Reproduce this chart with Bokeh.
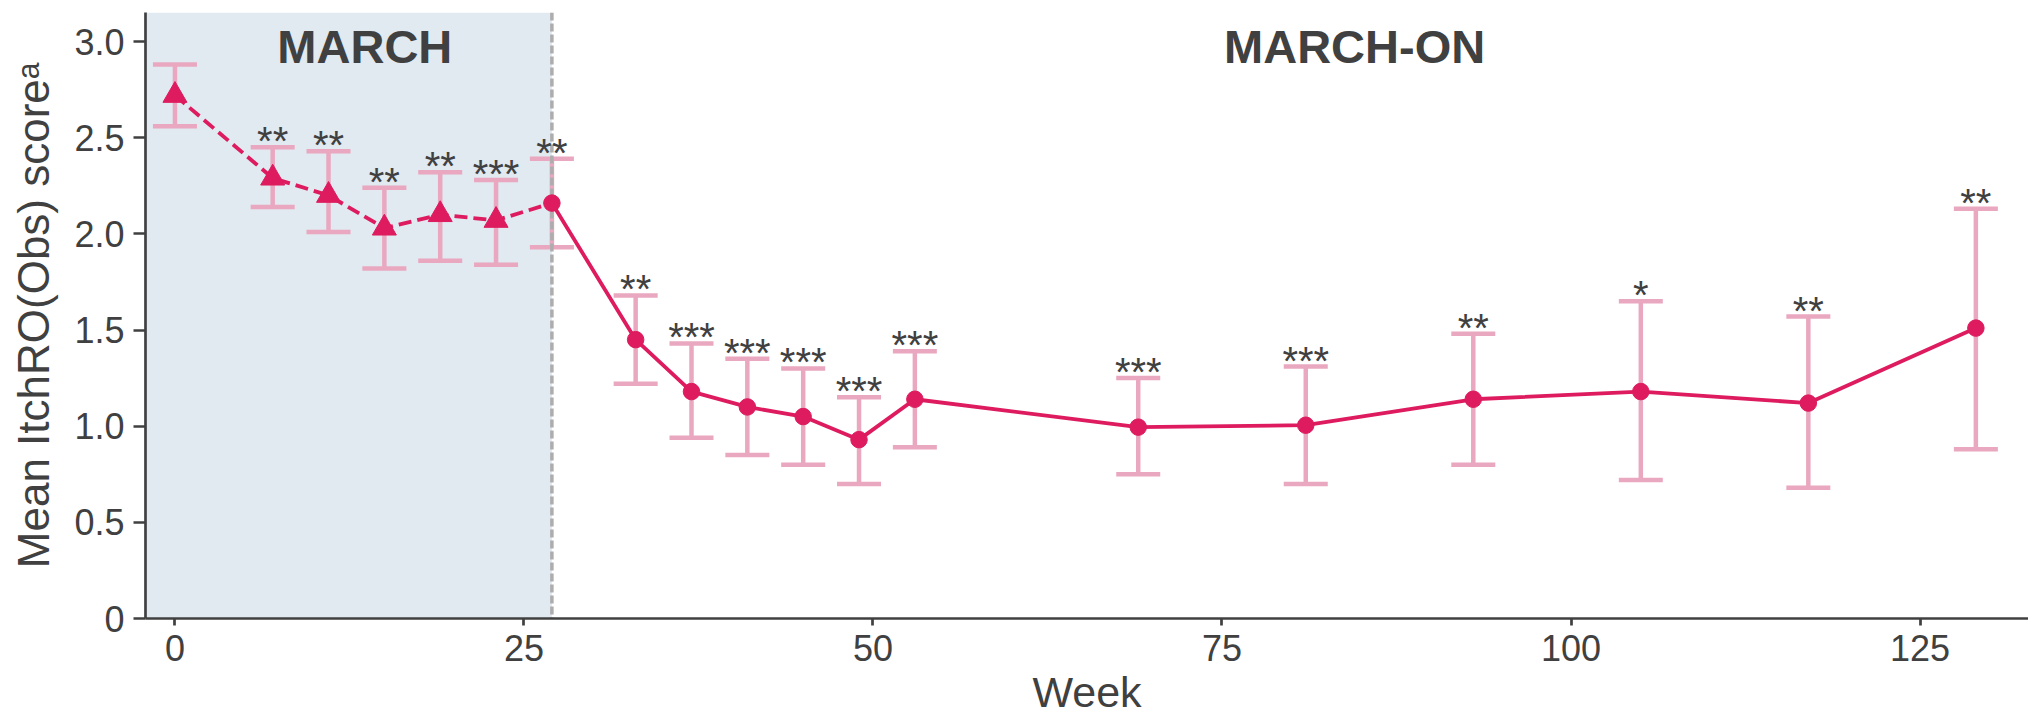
from bokeh.plotting import figure
from bokeh.models import (ColumnDataSource, Whisker, TeeHead, BoxAnnotation, Span,
                          FixedTicker, PrintfTickFormatter, Range1d)
from bokeh.core.properties import value
from bokeh.embed import file_html
from bokeh.resources import INLINE

# ---- data ----
weeks = [0, 7, 11, 15, 19, 23, 27, 33, 37, 41, 45, 49, 53, 69, 81, 93, 105, 117, 129]
means = [2.72, 2.29, 2.20, 2.03, 2.10, 2.07, 2.16, 1.45, 1.18, 1.10, 1.05, 0.93, 1.14,
         0.995, 1.005, 1.14, 1.18, 1.12, 1.51]
lower = [2.56, 2.14, 2.01, 1.82, 1.86, 1.84, 1.93, 1.22, 0.94, 0.85, 0.80, 0.70, 0.89,
         0.75, 0.70, 0.80, 0.72, 0.68, 0.88]
upper = [2.88, 2.45, 2.43, 2.24, 2.32, 2.28, 2.39, 1.68, 1.43, 1.35, 1.30, 1.15, 1.39,
         1.25, 1.31, 1.48, 1.65, 1.57, 2.13]
sig = ["", "**", "**", "**", "**", "***", "**", "**", "***", "***", "***", "***", "***",
       "***", "***", "**", "*", "**", "**"]
switch_week = 27
period_labels = ["MARCH", "MARCH-ON"]
period_x = [13.6, 84.5]
period_y = [2.975, 2.975]
y_ticks = [0, 0.5, 1.0, 1.5, 2.0, 2.5, 3.0]
x_ticks = [0, 25, 50, 75, 100, 125]
x_title = "Week"
y_title = "Mean ItchRO(Obs) scoreᵃ"

LINE = "#DD1B5E"
ERR = "#E9A8BF"
TXT = "#404040"
FONT = "Liberation Sans"

n_march = weeks.index(switch_week) + 1
src_all = ColumnDataSource(dict(week=weeks, mean=means, lower=lower, upper=upper, sig=sig))
src_march = ColumnDataSource(dict(week=weeks[:n_march], mean=means[:n_march]))
src_tri = ColumnDataSource(dict(week=weeks[:n_march - 1], mean=means[:n_march - 1]))
src_on = ColumnDataSource(dict(week=weeks[n_march - 1:], mean=means[n_march - 1:]))
src_lab = ColumnDataSource(dict(x=period_x, y=period_y, t=period_labels))

p = figure(width=2028, height=718, output_backend="svg", toolbar_location=None,
           x_range=Range1d(-2.11, 132.77), y_range=Range1d(0, 3.151),
           min_border_left=145, min_border_right=0, min_border_top=12, min_border_bottom=99)
p.outline_line_color = None
p.xgrid.visible = False
p.ygrid.visible = False
p.background_fill_color = "white"

# shaded MARCH region
p.add_layout(BoxAnnotation(right=switch_week, fill_color="#E1E9F1", fill_alpha=1.0,
                           line_color=None, level="underlay"))

# error bars
wh = Whisker(base="week", upper="upper", lower="lower", source=src_all,
             dimension="height", line_color=ERR, line_width=4.5, level="underlay",
             upper_head=TeeHead(size=44, line_color=ERR, line_width=4.5),
             lower_head=TeeHead(size=44, line_color=ERR, line_width=4.5))
p.add_layout(wh)

# divider between periods
p.add_layout(Span(location=switch_week, dimension="height", line_color="#ADADAD",
                  line_width=3.5, line_dash="8 3", level="underlay"))

# lines and markers
p.line("week", "mean", source=src_march, line_color=LINE, line_width=3.8, line_dash="13 6")
p.line("week", "mean", source=src_on, line_color=LINE, line_width=3.8)
p.scatter("week", "mean", source=src_tri, marker="triangle", size=24,
          fill_color=LINE, line_color=LINE)
p.scatter("week", "mean", source=src_on, marker="circle", size=16.5,
          fill_color=LINE, line_color=LINE)

# significance marks
p.text("week", "upper", text="sig", source=src_all, text_font=value(FONT),
       text_font_size="40px", text_color=TXT, text_align="center",
       text_baseline="middle", y_offset=-6)

# period labels
p.text("x", "y", text="t", source=src_lab, text_font=value(FONT), text_font_size="47px",
       text_font_style="bold", text_color=TXT, text_align="center", text_baseline="middle")

# axes
for ax in (p.xaxis[0], p.yaxis[0]):
    ax.axis_line_color = TXT
    ax.axis_line_width = 2.7
    ax.major_tick_line_color = TXT
    ax.major_tick_line_width = 2.7
    ax.minor_tick_line_color = None
    ax.major_tick_in = 0
    ax.major_label_text_font = FONT
    ax.major_label_text_font_size = "36px"
    ax.major_label_text_color = TXT
    ax.axis_label_text_font = FONT
    ax.axis_label_text_font_style = "normal"
    ax.axis_label_text_color = TXT

p.xaxis.ticker = FixedTicker(ticks=x_ticks)
p.xaxis.major_tick_out = 7
p.xaxis.major_label_standoff = 9
p.xaxis.axis_label = x_title
p.xaxis.axis_label_text_font_size = "43px"
p.xaxis.axis_label_standoff = 4

p.yaxis.ticker = FixedTicker(ticks=y_ticks)
p.yaxis.formatter = PrintfTickFormatter(format="%.1f")
p.yaxis.major_label_overrides = {0: "0"}
p.yaxis.major_tick_out = 12
p.yaxis.major_label_standoff = 9
p.yaxis.axis_label = y_title
p.yaxis.axis_label_text_font_size = "44px"
p.yaxis.axis_label_standoff = 13

open("out.html", "w").write(file_html(p, INLINE))
